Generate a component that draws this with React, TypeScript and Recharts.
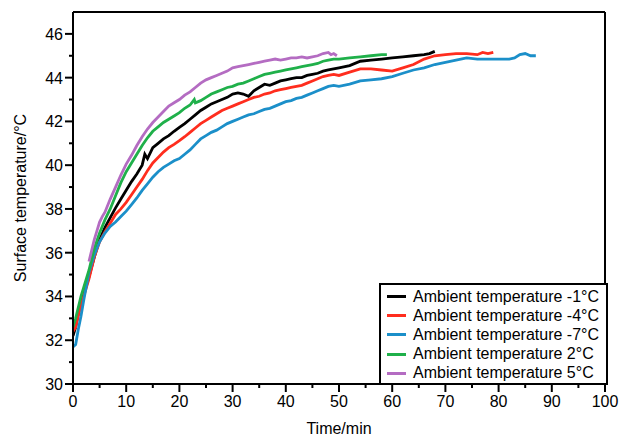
import { CartesianGrid, Legend, Line, LineChart, ReferenceLine, XAxis, YAxis } from "recharts"

const seriesNames = [
  "Ambient temperature -1°C",
  "Ambient temperature -4°C",
  "Ambient temperature -7°C",
  "Ambient temperature 2°C",
  "Ambient temperature 5°C",
]
const seriesColors = ["#000000", "#ff2d1e", "#1b8fc9", "#1fb04a", "#b46cc2"]

const timeM1 = [0, 0.5, 1, 1.5, 2, 3, 4, 5, 6, 7, 8, 9, 10, 11, 12, 13, 13.5, 14, 15, 16, 17, 18, 19, 20, 21, 22, 23, 24, 25, 26, 27, 28, 29, 30, 31, 32, 33, 34, 35, 36, 37, 38, 39, 40, 41, 42, 43, 44, 45, 46, 47, 48, 49, 50, 52, 54, 56, 58, 60, 62, 64, 66, 67, 68]
const tempM1 = [32.2, 32.6, 33.3, 33.7, 34.1, 34.9, 35.8, 36.6, 37.15, 37.6, 38.05, 38.45, 38.85, 39.25, 39.6, 40.0, 40.5, 40.3, 40.8, 41.0, 41.2, 41.35, 41.55, 41.73, 41.9, 42.1, 42.3, 42.5, 42.65, 42.8, 42.9, 43.0, 43.1, 43.25, 43.3, 43.25, 43.15, 43.4, 43.55, 43.7, 43.65, 43.75, 43.85, 43.9, 43.95, 44.0, 44.0, 44.1, 44.15, 44.2, 44.3, 44.35, 44.4, 44.45, 44.55, 44.75, 44.8, 44.85, 44.9, 44.95, 45.0, 45.05, 45.1, 45.2]

const timeM4 = [0, 0.5, 1, 1.5, 2, 3, 4, 5, 6, 7, 8, 9, 10, 11, 12, 13, 14, 15, 16, 17, 18, 19, 20, 21, 22, 23, 24, 25, 26, 27, 28, 29, 30, 31, 32, 33, 34, 35, 36, 37, 38, 39, 40, 41, 42, 43, 44, 45, 46, 47, 48, 49, 50, 52, 54, 56, 58, 60, 62, 64, 66, 68, 70, 72, 74, 76, 77, 78, 79]
const tempM4 = [32.4, 32.6, 33.1, 33.6, 34.0, 34.8, 35.8, 36.5, 36.95, 37.35, 37.75, 38.0, 38.3, 38.65, 39.0, 39.35, 39.75, 40.1, 40.35, 40.6, 40.8, 40.95, 41.12, 41.3, 41.5, 41.7, 41.9, 42.05, 42.2, 42.35, 42.5, 42.6, 42.7, 42.8, 42.9, 43.0, 43.1, 43.15, 43.25, 43.3, 43.4, 43.45, 43.5, 43.55, 43.6, 43.65, 43.75, 43.85, 43.95, 44.05, 44.1, 44.15, 44.1, 44.25, 44.4, 44.4, 44.35, 44.3, 44.45, 44.6, 44.85, 45.0, 45.05, 45.1, 45.1, 45.05, 45.15, 45.1, 45.15]

const timeM7 = [0, 0.5, 1, 1.5, 2, 3, 4, 5, 6, 7, 8, 9, 10, 11, 12, 13, 14, 15, 16, 17, 18, 19, 20, 21, 22, 23, 24, 25, 26, 27, 28, 29, 30, 31, 32, 33, 34, 35, 36, 37, 38, 39, 40, 41, 42, 43, 44, 45, 46, 47, 48, 49, 50, 52, 54, 56, 58, 60, 62, 64, 66, 68, 70, 72, 74, 76, 78, 80, 82, 83, 84, 85, 86, 87]
const tempM7 = [31.7, 31.8, 32.5, 33.1, 33.8, 35.1, 35.9, 36.5, 36.9, 37.2, 37.4, 37.65, 37.9, 38.2, 38.5, 38.85, 39.15, 39.45, 39.7, 39.9, 40.05, 40.2, 40.3, 40.5, 40.7, 40.95, 41.2, 41.35, 41.5, 41.6, 41.75, 41.9, 42.0, 42.1, 42.2, 42.3, 42.35, 42.45, 42.55, 42.6, 42.7, 42.8, 42.9, 42.95, 43.05, 43.1, 43.2, 43.3, 43.4, 43.5, 43.6, 43.65, 43.6, 43.7, 43.85, 43.9, 43.95, 44.05, 44.2, 44.35, 44.45, 44.6, 44.7, 44.8, 44.9, 44.85, 44.85, 44.85, 44.85, 44.9, 45.05, 45.1, 45.0, 45.0]

const timeP2 = [0, 0.5, 1, 1.5, 2, 3, 4, 5, 6, 7, 8, 9, 10, 11, 12, 13, 14, 15, 16, 17, 18, 19, 20, 21, 22, 22.8, 23, 24, 25, 26, 27, 28, 29, 30, 31, 32, 33, 34, 35, 36, 37, 38, 39, 40, 41, 42, 43, 44, 45, 46, 47, 48, 49, 50, 52, 54, 56, 58, 59]
const tempP2 = [32.6, 33.0, 33.5, 34.0, 34.4, 35.2, 36.2, 36.9, 37.5, 38.0, 38.6, 39.2, 39.7, 40.1, 40.5, 40.9, 41.25, 41.55, 41.75, 41.95, 42.1, 42.25, 42.4, 42.6, 42.75, 43.0, 42.85, 42.95, 43.1, 43.25, 43.35, 43.45, 43.55, 43.6, 43.7, 43.75, 43.85, 43.95, 44.05, 44.15, 44.2, 44.25, 44.3, 44.35, 44.4, 44.45, 44.5, 44.55, 44.6, 44.65, 44.75, 44.8, 44.85, 44.85, 44.9, 44.95, 45.0, 45.05, 45.05]

const timeP5 = [3, 3.5, 4, 4.5, 5, 5.5, 6, 7, 8, 9, 10, 11, 12, 13, 14, 15, 16, 17, 18, 19, 20, 21, 22, 23, 24, 25, 26, 27, 28, 29, 30, 31, 32, 33, 34, 35, 36, 37, 38, 39, 40, 41, 42, 43, 44, 45, 46, 47, 48, 48.5, 49, 49.6]
const tempP5 = [35.6, 36.1, 36.6, 37.0, 37.4, 37.65, 37.85, 38.45, 39.0, 39.55, 40.05, 40.45, 40.9, 41.3, 41.65, 41.95, 42.2, 42.45, 42.7, 42.85, 43.0, 43.2, 43.35, 43.55, 43.75, 43.9, 44.0, 44.1, 44.2, 44.3, 44.45, 44.5, 44.55, 44.6, 44.65, 44.7, 44.75, 44.8, 44.85, 44.8, 44.85, 44.9, 44.9, 44.95, 44.9, 44.95, 45.0, 45.1, 45.15, 45.05, 45.1, 45.0]

const xTicks = [0, 5, 10, 15, 20, 25, 30, 35, 40, 45, 50, 55, 60, 65, 70, 75, 80, 85, 90, 95, 100]
const yTicks = [30, 31, 32, 33, 34, 35, 36, 37, 38, 39, 40, 41, 42, 43, 44, 45, 46]

const toRows = (t: number[], v: number[]) => t.map((x, i) => ({ t: x, v: v[i] }))
const series = [
  toRows(timeM1, tempM1),
  toRows(timeM4, tempM4),
  toRows(timeM7, tempM7),
  toRows(timeP2, tempP2),
  toRows(timeP5, tempP5),
]

const FONT = "'Liberation Sans', Arial, Helvetica, sans-serif"

const XTick = (props: any) => {
  const { x, y, payload } = props
  const major = payload.value % 10 === 0
  return (
    <g>
      <line x1={x} x2={x} y1={y} y2={y + (major ? 8 : 4)} stroke="#000" strokeWidth={2} />
      {major && (
        <text x={x} y={y + 23} textAnchor="middle" fontSize={16} fontFamily={FONT} fill="#000">
          {payload.value}
        </text>
      )}
    </g>
  )
}

const YTick = (props: any) => {
  const { x, y, payload } = props
  const major = payload.value % 2 === 0
  return (
    <g>
      <line x1={x - (major ? 8 : 4)} x2={x} y1={y} y2={y} stroke="#000" strokeWidth={2} />
      {major && (
        <text x={x - 10} y={y + 6} textAnchor="end" fontSize={16} fontFamily={FONT} fill="#000">
          {payload.value}
        </text>
      )}
    </g>
  )
}

const LegendBox = (props: any) => {
  const items = props.payload || []
  return (
    <div
      style={{
        border: "2px solid #000",
        boxSizing: "border-box",
        width: 229,
        height: 102,
        padding: "2px 0 0 6px",
        background: "#fff",
        fontFamily: FONT,
        fontSize: 16,
      }}
    >
      {items.map((it: any) => (
        <div key={it.value} style={{ display: "flex", alignItems: "center", height: 19.2 }}>
          <span style={{ width: 19, height: 3, background: it.color, marginRight: 7 }} />
          <span>{it.value}</span>
        </div>
      ))}
    </div>
  )
}

export default function App() {
  return (
    <div style={{ position: "absolute", left: 0, top: 0, background: "#fff" }}>
      <LineChart width={619} height={436} margin={{ top: 12, right: 14, bottom: 0, left: 0 }}>
        <CartesianGrid stroke="none" />
        <XAxis
          dataKey="t"
          type="number"
          domain={[0, 100]}
          ticks={xTicks}
          interval={0}
          tickSize={0}
          tickMargin={0}
          tickLine={false}
          axisLine={{ stroke: "#000", strokeWidth: 2 }}
          tick={<XTick />}
          height={52}
          allowDataOverflow
          label={{ value: "Time/min", position: "insideBottom", offset: 2, fontSize: 16, fontFamily: FONT, fill: "#000" }}
        />
        <YAxis
          type="number"
          domain={[30, 47]}
          ticks={yTicks}
          interval={0}
          tickSize={0}
          tickMargin={0}
          tickLine={false}
          axisLine={{ stroke: "#000", strokeWidth: 2 }}
          tick={<YTick />}
          width={73}
          allowDataOverflow
          label={{
            value: "Surface temperature/°C",
            angle: -90,
            position: "insideLeft",
            offset: 20,
            style: { textAnchor: "middle" },
            fontSize: 16,
            fontFamily: FONT,
            fill: "#000",
          }}
        />
        <ReferenceLine y={47} stroke="#000" strokeWidth={2} />
        <ReferenceLine x={100} stroke="#000" strokeWidth={2} />
        {series.map((d, i) => (
          <Line
            key={seriesNames[i]}
            data={d}
            dataKey="v"
            name={seriesNames[i]}
            type="linear"
            stroke={seriesColors[i]}
            strokeWidth={2.8}
            dot={false}
            activeDot={false}
            isAnimationActive={false}
          />
        ))}
        <Legend
          layout="horizontal"
          verticalAlign="middle"
          align="center"
          content={<LegendBox />}
          wrapperStyle={{ position: "absolute", left: 379, top: 283, width: 229 }}
        />
      </LineChart>
    </div>
  )
}
